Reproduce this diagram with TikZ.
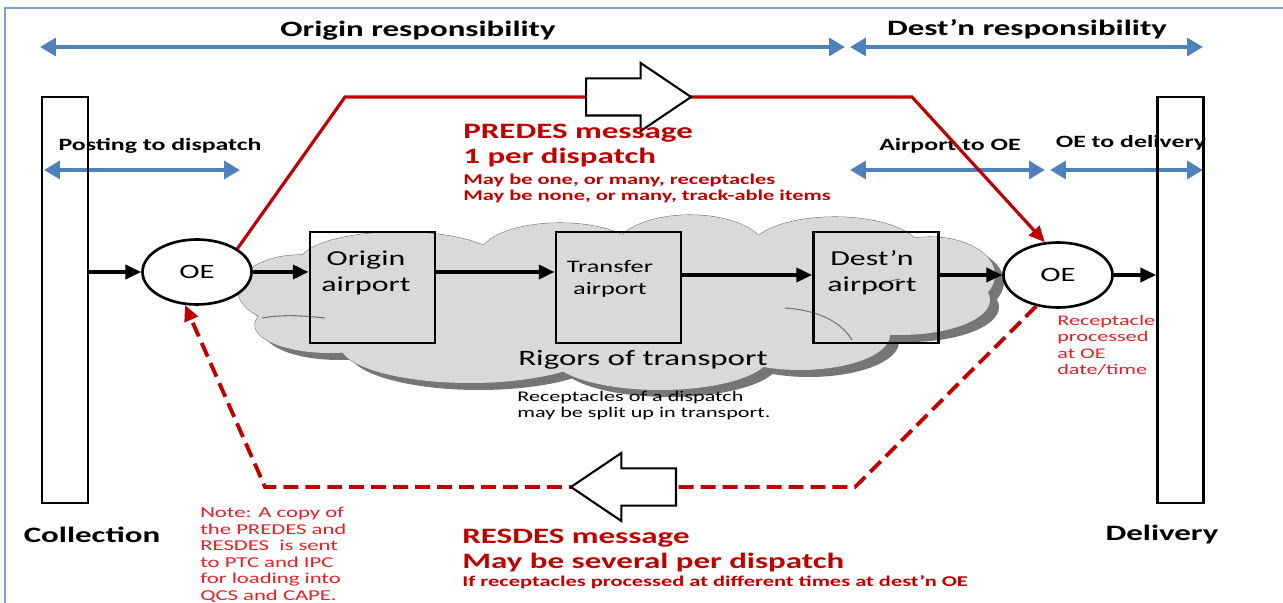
\documentclass[tikz,border=0pt]{standalone}
\usepackage{fontspec}
\setmainfont[FakeStretch=1.5]{Carlito}
\usetikzlibrary{arrows.meta,positioning,calc,shapes.geometric,shapes.arrows}
\definecolor{dkred}{RGB}{192,0,0}
\definecolor{notered}{RGB}{235,30,35}
\definecolor{resp}{RGB}{79,129,189}
\definecolor{framec}{RGB}{125,160,210}
\definecolor{cloudfill}{RGB}{217,217,217}
\definecolor{cloudline}{RGB}{115,115,115}
\definecolor{cloudshade}{RGB}{118,118,118}
\newcommand{\setfs}[2]{\fontsize{#1pt}{#2pt}\selectfont}

\tikzset{
  resparrow/.style={draw=resp, line width=2.8pt, {Triangle[length=9pt,width=10pt]}-{Triangle[length=9pt,width=10pt]}},
  flow/.style={line width=2pt, -{Triangle[length=9pt,width=8pt]}},
  predesline/.style={draw=dkred, line width=1.8pt, -{Triangle[length=9pt,width=8pt]}},
  resdesline/.style={draw=dkred, line width=2.2pt, dash pattern=on 8.5pt off 4pt, -{Triangle[length=9pt,width=8pt]}},
  bar/.style={draw, line width=1.5pt, minimum width=9.2mm, minimum height=81.2mm, inner sep=0},
  oenode/.style={ellipse, draw, fill=white, line width=1.5pt, minimum width=21.8mm, minimum height=13mm, inner sep=0, font=\setfs{11.6}{13}},
  apbox/.style={draw, line width=1.6pt, minimum width=25mm, minimum height=22.2mm, inner sep=0},
  aplabel/.style={align=center, inner sep=0, font=\setfs{12.1}{14.8}},
  msgarrow/.style={single arrow, draw, fill=white, line width=1.2pt, minimum height=21mm, minimum width=13.2mm, text height=3.5mm, text depth=3.5mm, single arrow head extend=3.1mm, single arrow tip angle=68, inner sep=0},
  bigtxt/.style={inner sep=0, font=\setfs{12.5}{15}\bfseries},
  steptxt/.style={inner sep=0, font=\setfs{9.8}{12}\bfseries},
  bigred/.style={anchor=west, align=left, inner sep=0, text=dkred, font=\setfs{12.5}{14.2}\bfseries},
  smallred/.style={anchor=west, align=left, inner sep=0, text=dkred, font=\setfs{8.5}{9.1}\bfseries},
  notetxt/.style={anchor=west, align=left, inner sep=0, text=notered, font=\setfs{8.4}{9.4}},
  hint/.style={cloudline, line width=0.6pt},
}

\begin{document}
\begin{tikzpicture}[x=0.2mm,y=-0.2mm]
\useasboundingbox (0,0) rectangle (1283,603);
\draw[framec, line width=1.2pt] (5,603) -- (5,8) -- (1283,8);

% cloud: shadow, outline, then fill
\def\cloudlobes{300/290/62/35, 330/325/75/28, 470/345/130/38, 660/355/110/35, 800/335/90/35, 900/300/90/35, 930/275/65/38, 835/250/85/33, 690/250/75/35, 560/255/80/32, 400/262/100/30, 620/300/330/60}
\foreach \cx/\cy/\rx/\ry in \cloudlobes
  \fill[cloudshade] (\cx+9,\cy+7) ellipse [x radius=\rx, y radius=\ry];
\foreach \cx/\cy/\rx/\ry in \cloudlobes
  \draw[cloudline, line width=0.6pt] (\cx,\cy) ellipse [x radius=\rx, y radius=\ry];
\foreach \cx/\cy/\rx/\ry in \cloudlobes
  \fill[cloudfill] (\cx,\cy) ellipse [x radius=\rx, y radius=\ry];
\draw[hint] (262,318) .. controls (285,314) and (305,316) .. (325,318);
\draw[hint] (785,308) .. controls (815,310) and (840,320) .. (852,340);
\draw[hint] (876,288) .. controls (885,282) and (893,280) .. (900,279);

% responsibility
\coordinate (rs1) at (40,47);
\coordinate (rs2) at (845,47);
\coordinate (rs3) at (850,47);
\coordinate (rs4) at (1203,47);
\draw[resparrow] (rs1) -- (rs2);
\draw[resparrow] (rs3) -- (rs4);
\node[bigtxt] (origresp) at (418,31) {Origin responsibility};
\node[bigtxt] (destresp) at (1027,29) {Dest’n responsibility};

\coordinate (st1) at (44,170);
\coordinate (st2) at (240,170);
\coordinate (st3) at (850,170);
\coordinate (st4) at (1045,170);
\coordinate (st5) at (1050,170);
\coordinate (st6) at (1203,170);
\draw[resparrow] (st1) -- (st2);
\draw[resparrow] (st3) -- (st4);
\draw[resparrow] (st5) -- (st6);
\node[steptxt] (posting) at (160,146) {Posting to dispatch};
\node[steptxt] (airtooe) at (950,146) {Airport to OE};
\node[steptxt] (oetodel) at (1131,143) {OE to delivery};

% bars
\node[bar] (colbar) at (65,300) {};
\node[bar] (delbar) at (1180.5,300) {};
\node[bigtxt] (coll) at (92,535) {Collection};
\node[bigtxt] (deliv) at (1162,535) {Delivery};

% offices of exchange and airports
\node[oenode] (oe1) at (197,272) {OE};
\node[oenode] (oe2) at (1058,275) {OE};
\node[apbox] (orig) at (372.5,287.5) {};
\node[apbox] (trans) at (618.5,287.5) {};
\node[apbox] (dest) at (876,287.5) {};
\node[aplabel] (origlbl) at (366,273) {Origin\\airport};
\node[aplabel, font=\setfs{10}{12.2}] (translbl) at (610,279) {Transfer\\airport};
\node[aplabel] (destlbl) at (872,273) {Dest’n\\airport};

\draw[flow] (colbar.east |- oe1) -- (oe1);
\draw[flow] (oe1) -- (orig.west |- oe1);
\draw[flow] (orig.east |- oe1) -- (trans.west |- oe1);
\draw[flow] (trans.east |- oe2) -- (dest.west |- oe2);
\draw[flow] (dest.east |- oe2) -- (oe2);
\draw[flow] (oe2) -- (delbar.west |- oe2);

\node[inner sep=0, font=\setfs{12.5}{15}] (rigors) at (643,360) {Rigors of transport};
\node[anchor=west, align=left, inner sep=0, font=\setfs{8.4}{9.1}] (splitnote) at (517,406) {Receptacles of a dispatch\\may be split up in transport.};

% PREDES
\coordinate (pd1) at (345,97);
\coordinate (pd2) at (912,97);
\draw[predesline] (oe1.30) -- (pd1) -- (pd2) -- (oe2.112);
\node[msgarrow, anchor=tail] (predarr) at (585,97) {};
\node[bigred] (predes) at (463,146) {PREDES message\\1 per dispatch};
\node[smallred] (predesnote) at (463,188) {May be one, or many, receptacles\\May be none, or many, track-able items};

% RESDES
\coordinate (rd1) at (855,487);
\coordinate (rd2) at (265,487);
\draw[resdesline] (oe2.235) -- (rd1) -- (rd2) -- (oe1.250);
\node[msgarrow, shape border rotate=180, anchor=tail] (resarr) at (677,487) {};
\node[bigred] (resdes) at (462,551) {RESDES message\\May be several per dispatch};
\node[smallred] (resdesnote) at (462,582) {If receptacles processed at different times at dest’n OE};

\node[notetxt] (oenote) at (1057,345) {Receptacle\\processed\\at OE\\date/time};
\node[notetxt, font=\setfs{8.6}{9.4}] (copynote) at (200,555) {Note: A copy of\\the PREDES and\\RESDES\ \ is sent\\to PTC and IPC\\for loading into\\QCS and CAPE.};
\end{tikzpicture}
\end{document}
